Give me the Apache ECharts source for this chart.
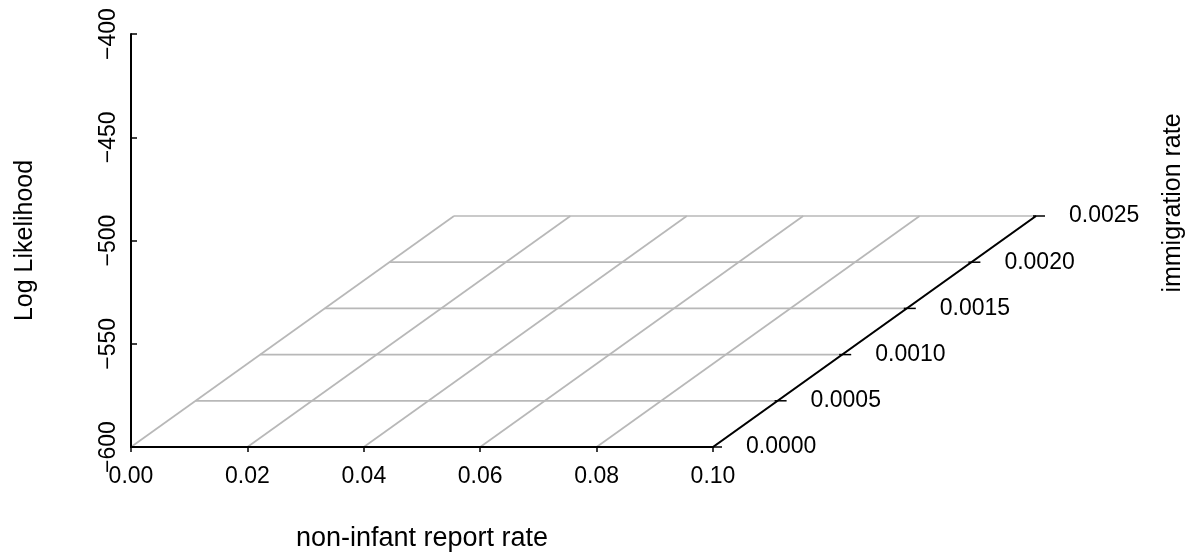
<!DOCTYPE html>
<html>
<head>
<meta charset="utf-8">
<script src="https://cdn.jsdelivr.net/npm/echarts@6/dist/echarts.min.js"></script>
<style>
html,body{margin:0;padding:0;background:#fff;}
#chart{width:1187px;height:557px;}
</style>
</head>
<body>
<div id="chart"></div>
<script>
// ---- data (axis ticks of the empty 3D frame) ----
const reportRateTicks = [0, 0.02, 0.04, 0.06, 0.08, 0.10];
const immigrationTicks = [0, 0.0005, 0.0010, 0.0015, 0.0020, 0.0025];
const immigrationLabels = ['0.0000', '0.0005', '0.0010', '0.0015', '0.0020', '0.0025'];
const logLikTicks = [-600, -550, -500, -450, -400];

const xTitle = 'non-infant report rate';
const yTitle = 'immigration rate';
const zTitle = 'Log Likelihood';

// ---- projection / style settings ----
const DEPTH_DX = 323;   // pixel shift for full immigration range
const DEPTH_DY = -231;
const FAMILY = '"Liberation Sans", Arial, sans-serif';
const FONT = '23px ' + FAMILY;

const xMin = reportRateTicks[0], xMax = reportRateTicks[reportRateTicks.length - 1];
const vMin = immigrationTicks[0], vMax = immigrationTicks[immigrationTicks.length - 1];
const zMin = logLikTicks[0], zMax = logLikTicks[logLikTicks.length - 1];

function project(api, x, v) {
  const p = api.coord([x, zMin]);
  const f = (v - vMin) / (vMax - vMin);
  return [p[0] + f * DEPTH_DX, p[1] + f * DEPTH_DY];
}

// base-plane grid lines: [x1, v1, x2, v2, z]
const gridLines = [];
reportRateTicks.forEach(x => gridLines.push([x, vMin, x, vMax, zMin]));
immigrationTicks.forEach(v => gridLines.push([xMin, v, xMax, v, zMin]));

const depthAxisLine = [[xMax, vMin, xMax, vMax, zMin]];
const depthAxisTicks = immigrationTicks.map((v, i) => [xMax, v, zMin, i]);

function renderSegment(color, width) {
  return function (params, api) {
    const a = project(api, api.value(0), api.value(1));
    const b = project(api, api.value(2), api.value(3));
    return {
      type: 'line',
      shape: { x1: a[0], y1: a[1], x2: b[0], y2: b[1] },
      style: { stroke: color, lineWidth: width }
    };
  };
}

const chart = echarts.init(document.getElementById('chart'), null, { renderer: 'canvas' });
chart.setOption({
  animation: false,
  backgroundColor: '#ffffff',
  grid: { left: 131, right: 474, top: 34, bottom: 109, containLabel: false },
  xAxis: {
    type: 'value', min: xMin, max: xMax, interval: 0.02, z: 5,
    axisLine: { show: true, onZero: false, lineStyle: { color: '#000', width: 2 } },
    axisTick: { show: true, inside: false, length: 5, lineStyle: { color: '#000', width: 1.5 } },
    axisLabel: { margin: 18, color: '#000', fontSize: 23, fontFamily: FAMILY,
      formatter: v => v.toFixed(2) },
    splitLine: { show: false },
    name: xTitle, nameLocation: 'middle', nameGap: 78,
    nameTextStyle: { color: '#000', fontSize: 27, fontFamily: FAMILY }
  },
  yAxis: {
    type: 'value', min: zMin, max: zMax, interval: 50, z: 5,
    axisLine: { show: true, onZero: false, lineStyle: { color: '#000', width: 2 } },
    axisTick: { show: true, inside: true, length: 6, lineStyle: { color: '#000', width: 1.5 } },
    axisLabel: { rotate: 90, margin: 11, color: '#000', fontSize: 23, fontFamily: FAMILY,
      formatter: v => String(v).replace('-', '\u2212') },
    splitLine: { show: false },
    name: zTitle, nameLocation: 'middle', nameGap: 93, nameRotate: 90,
    nameTextStyle: { color: '#000', fontSize: 25, fontFamily: FAMILY }
  },
  graphic: [{
    type: 'text', x: 1173, y: 203, rotation: Math.PI / 2,
    style: { text: yTitle, font: '25px ' + FAMILY, fill: '#000',
      align: 'center', verticalAlign: 'middle' }
  }],
  series: [
    {
      type: 'custom', name: 'grid', z: 1, clip: false, silent: true,
      encode: { x: [0, 2], y: 4 },
      data: gridLines,
      renderItem: renderSegment('#b8b8b8', 1.7)
    },
    {
      type: 'custom', name: 'depthAxis', z: 6, clip: false, silent: true,
      encode: { x: [0, 2], y: 4 },
      data: depthAxisLine,
      renderItem: renderSegment('#000', 2)
    },
    {
      type: 'custom', name: 'depthTicks', z: 6, clip: false, silent: true,
      encode: { x: 0, y: 2 },
      data: depthAxisTicks,
      renderItem: function (params, api) {
        const p = project(api, api.value(0), api.value(1));
        const idx = api.value(3);
        return {
          type: 'group',
          children: [
            { type: 'line', shape: { x1: p[0] - 3, y1: p[1], x2: p[0] + 9, y2: p[1] },
              style: { stroke: '#000', lineWidth: 1.5 } },
            { type: 'text', x: p[0] + 33, y: p[1],
              style: { text: immigrationLabels[idx], font: FONT, fill: '#000',
                align: 'left', verticalAlign: 'middle' } }
          ]
        };
      }
    }
  ]
});
</script>
</body>
</html>
